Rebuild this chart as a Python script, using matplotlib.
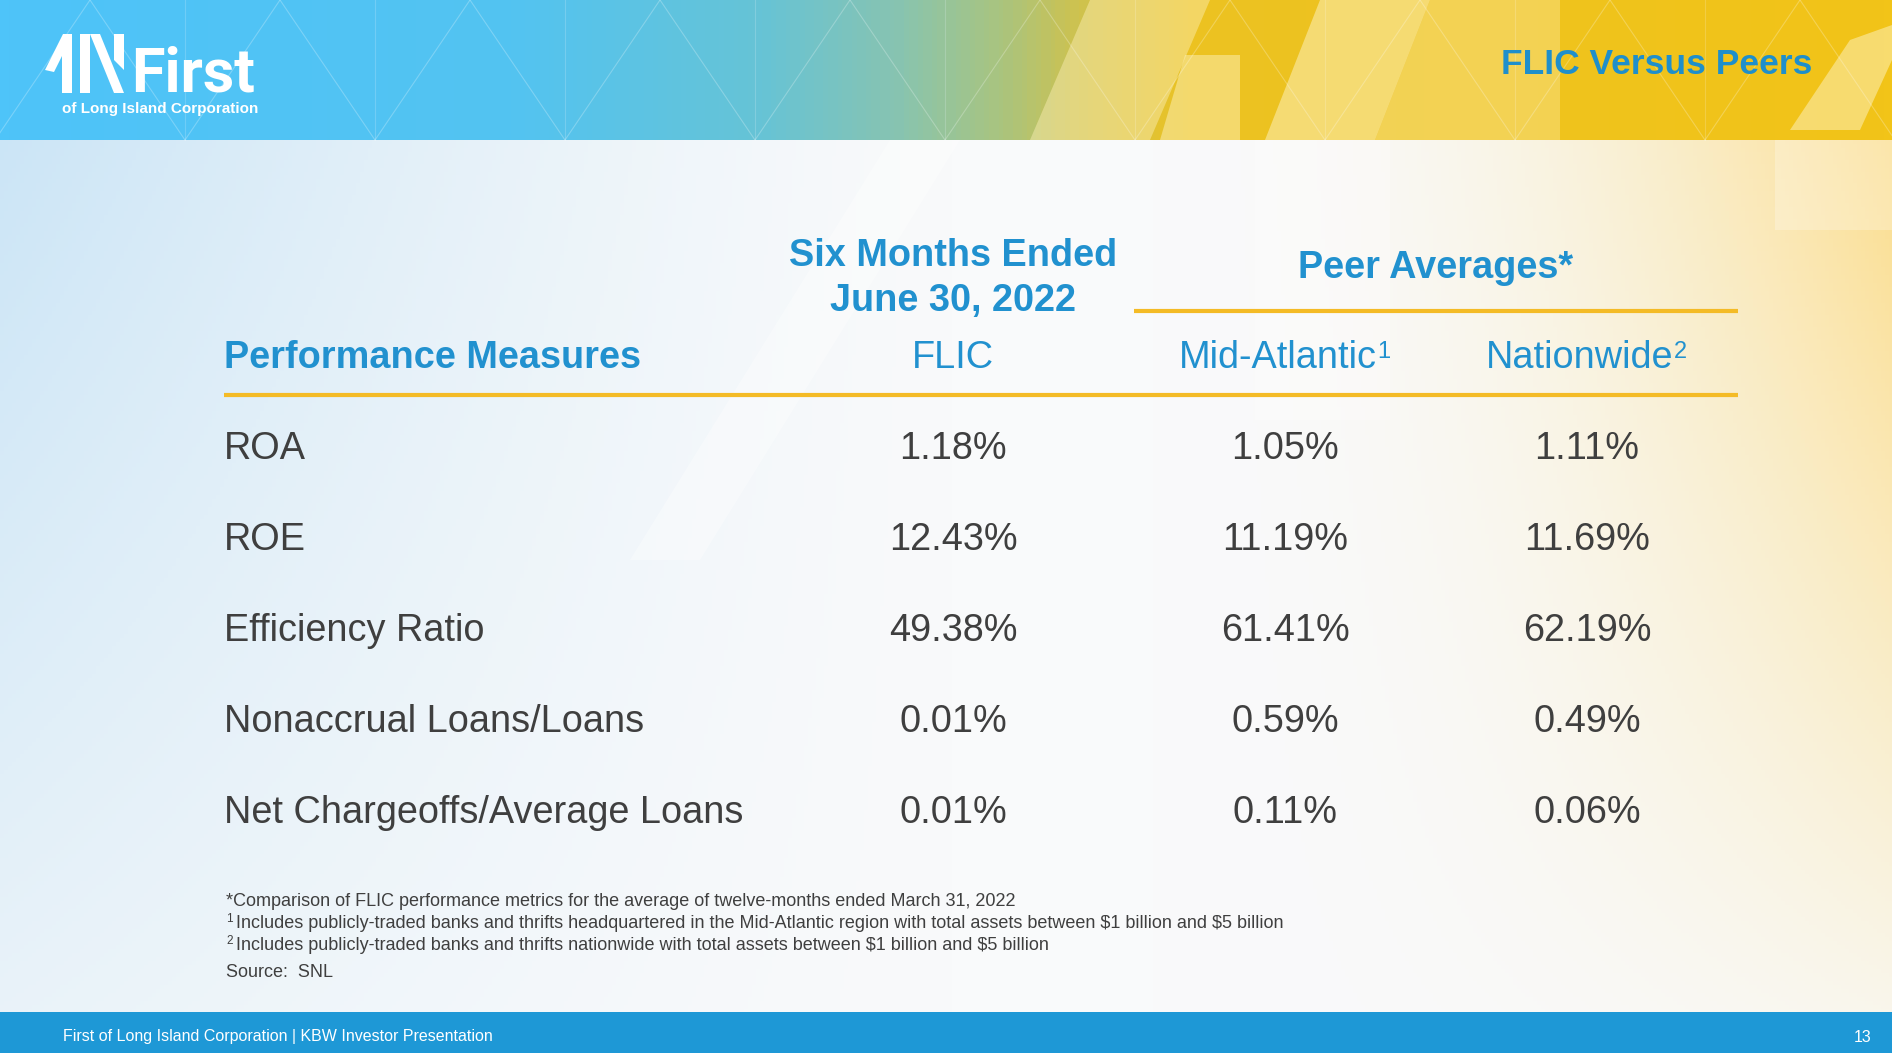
import numpy as np
import matplotlib
matplotlib.use("Agg")
import matplotlib.pyplot as plt
from matplotlib.colors import LinearSegmentedColormap, to_rgb
from matplotlib.patches import Polygon, Rectangle

plt.rcParams["font.family"] = ["Liberation Sans", "DejaVu Sans"]

# table content
measures = ["ROA", "ROE", "Efficiency Ratio", "Nonaccrual Loans/Loans",
            "Net Chargeoffs/Average Loans"]
flic = [1.18, 12.43, 49.38, 0.01, 0.01]
mid_atlantic = [1.05, 11.19, 61.41, 0.59, 0.11]
nationwide = [1.11, 11.69, 62.19, 0.49, 0.06]
col_names = ["FLIC", "Mid-Atlantic", "Nationwide"]
col_sups = ["", "1", "2"]
foot_marks = ["", "1", "2"]
foot_texts = [
    "*Comparison of FLIC performance metrics for the average of twelve-months ended March 31, 2022",
    "Includes publicly-traded banks and thrifts headquartered in the Mid-Atlantic region with total assets between \\$1 billion and \\$5 billion",
    "Includes publicly-traded banks and thrifts nationwide with total assets between \\$1 billion and \\$5 billion",
]

W, H = 1892, 1053
BLUE = "#2191cf"
GOLD = "#f4bb26"
GREY = "#3f3f3f"

fig = plt.figure(figsize=(W / 100, H / 100), dpi=100)
ax = fig.add_axes([0, 0, 1, 1])
ax.set_xlim(0, W); ax.set_ylim(H, 0); ax.axis("off")

# body background: blue wash on the left, pale yellow wash on the right
yy, xx = np.mgrid[0:H:4, 0:W:4].astype(float)
yn = yy / H
wb = np.clip(1 - xx / 950, 0, 1) ** 1.3 * np.clip(1.05 - 0.75 * yn, 0, 1)
wy = np.clip((xx - 1150) / 750, 0, 1) ** 2.2 * np.clip(1.1 - 1.0 * yn, 0, 1)
base = np.array(to_rgb("#f9fafb")); cb = np.array(to_rgb("#c9e4f6")); cy = np.array(to_rgb("#fbdc88"))
img = base * (1 - wb - wy)[..., None] + cb * wb[..., None] + cy * wy[..., None]
ax.imshow(np.clip(img, 0, 1), extent=(0, W, H, 0), aspect="auto", zorder=0)

# faint large logo shapes in the body
for pts, a in [([(630, 560), (700, 560), (960, 140), (890, 140)], 0.35),
               ([(1255, 140), (1390, 140), (1390, 420), (1255, 420)], 0.25),
               ([(1775, 140), (1892, 140), (1892, 230), (1775, 230)], 0.25)]:
    ax.add_patch(Polygon(pts, closed=True, fc="white", ec="none", alpha=a, zorder=1))

# header band
hcm = LinearSegmentedColormap.from_list("hdr", [
    (0.0, "#4ec4f9"), (0.27, "#53c3f1"), (0.40, "#66c3d6"), (0.475, "#88c4b0"),
    (0.53, "#aac47e"), (0.575, "#d2c24a"), (0.63, "#ecc222"), (1.0, "#f2c418")])
ax.imshow(np.linspace(0, 1, 400)[None, :], cmap=hcm, extent=(0, W, 140, 0),
          aspect="auto", zorder=2)
for pts, a in [([(1030, 140), (1150, 140), (1210, 0), (1090, 0)], 0.45),
               ([(1160, 140), (1240, 140), (1240, 55), (1185, 55)], 0.5),
               ([(1265, 140), (1375, 140), (1430, 0), (1320, 0)], 0.55),
               ([(1375, 140), (1560, 140), (1560, 0), (1430, 0)], 0.35),
               ([(1790, 130), (1860, 130), (1892, 60), (1892, 25), (1850, 40)], 0.55)]:
    ax.add_patch(Polygon(pts, closed=True, fc="#fdf0b8", ec="none", alpha=a, zorder=3))
for x0 in range(-100, 2000, 190):
    ax.plot([x0, x0 + 95], [0, 140], color="white", lw=0.8, alpha=0.25, zorder=3)
    ax.plot([x0 + 190, x0 + 95], [0, 140], color="white", lw=0.8, alpha=0.25, zorder=3)
    ax.plot([x0 + 95, x0 + 95], [0, 140], color="white", lw=0.8, alpha=0.18, zorder=3)

# logo
for pts in [[(45, 70), (63, 34), (72, 34), (72, 93), (62, 93), (62, 56), (54, 72)],
            [(80, 34), (90, 34), (90, 93), (80, 93)],
            [(90, 34), (100, 34), (124, 93), (114, 93)],
            [(114, 34), (124, 34), (124, 70), (114, 60)]]:
    ax.add_patch(Polygon(pts, closed=True, fc="white", ec="none", zorder=4))
ax.text(131, 92, "First", fontsize=44, fontweight="bold", color="white",
        family=["Roboto", "Liberation Sans"], va="baseline", ha="left", zorder=4)
ax.text(62, 109, "of Long Island Corporation", fontsize=11, fontweight="bold",
        color="white", va="center", ha="left", zorder=4)
ax.text(1812, 64, "FLIC Versus Peers", fontsize=25.5, fontweight="bold", color="#1f8fcb",
        va="center", ha="right", zorder=4)

# table layout
FS = 27.3
cap = 0.716 * FS * 100 / 72 / 2          # half cap height in px
x_label = 224
x_vals = [953, 1285, 1587]
x_heads = [953, 1278, 1580]
row_y = 445 + 91 * np.arange(len(measures))

ax.text(x_vals[0], 252 + cap, "Six Months Ended", fontsize=FS, fontweight="bold",
        color=BLUE, ha="center", va="baseline", zorder=5)
ax.text(x_vals[0], 297 + cap, "June 30, 2022", fontsize=FS, fontweight="bold",
        color=BLUE, ha="center", va="baseline", zorder=5)
ax.text(1436, 264 + cap, "Peer Averages*", fontsize=FS, fontweight="bold",
        color=BLUE, ha="center", va="baseline", zorder=5)
ax.plot([1134, 1738], [311, 311], color=GOLD, lw=3, solid_capstyle="butt", zorder=5)

ax.text(x_label, 354 + cap, "Performance Measures", fontsize=FS, fontweight="bold",
        color=BLUE, ha="left", va="baseline", zorder=5)
for x, name, sup in zip(x_heads, col_names, col_sups):
    t = ax.text(x, 354 + cap, name, fontsize=FS, color=BLUE, ha="center",
                va="baseline", zorder=5)
    if sup:
        ax.annotate(sup, xy=(1.0, 0.97), xycoords=t, xytext=(0.3, 0),
                    textcoords="offset points", fontsize=17, color=BLUE,
                    ha="left", va="top", zorder=5)
ax.plot([x_label, 1738], [395, 395], color=GOLD, lw=3, solid_capstyle="butt", zorder=5)

for y, m, a, b, c in zip(row_y, measures, flic, mid_atlantic, nationwide):
    ax.text(x_label, y + cap, m, fontsize=FS, color=GREY, ha="left", va="baseline", zorder=5)
    for x, v in zip(x_vals, (a, b, c)):
        ax.text(x, y + cap, f"{v:.2f}%", fontsize=FS, color=GREY, ha="center",
                va="baseline", zorder=5)

# footnotes
FFS = 13
fcap = 0.716 * FFS * 100 / 72 / 2
for y, mark, txt in zip([900, 922, 944], foot_marks, foot_texts):
    if mark:
        ax.text(226, y + fcap - 6, mark, fontsize=8.5, color=GREY, va="baseline",
                ha="left", zorder=5)
        ax.text(236, y + fcap, txt, fontsize=FFS, color=GREY, va="baseline", ha="left", zorder=5)
    else:
        ax.text(226, y + fcap, txt, fontsize=FFS, color=GREY, va="baseline", ha="left", zorder=5)
ax.text(226, 971 + fcap, "Source:  SNL", fontsize=FFS, color=GREY, va="baseline",
        ha="left", zorder=5)

# footer band
ax.add_patch(Rectangle((0, 1012), W, H - 1012, fc="#1e98d6", ec="none", zorder=6))
ax.text(63, 1037, "First of Long Island Corporation | KBW Investor Presentation",
        fontsize=11.5, color="white", va="center", ha="left", zorder=7)
ax.text(1871, 1037, "13", fontsize=11.5, color="white", va="center", ha="right", zorder=7)

fig.savefig("out.png", dpi=100)
